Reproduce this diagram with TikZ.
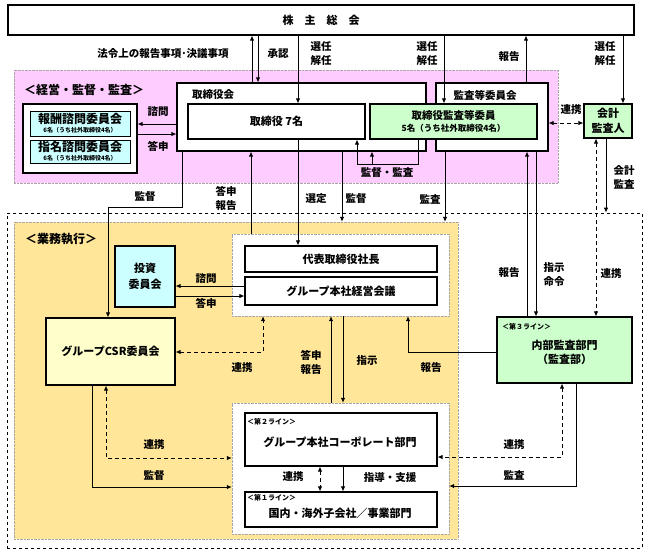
\documentclass[tikz,border=0pt]{standalone}
\usepackage{fontspec}
\setmainfont{Noto Sans CJK JP}
\usetikzlibrary{arrows.meta}

\definecolor{pinkbg}{HTML}{FFCCFF}
\definecolor{orangebg}{HTML}{FFE699}
\definecolor{greenbox}{HTML}{CCFFCC}
\definecolor{cyanbox}{HTML}{CCFFFF}
\definecolor{yellowbox}{HTML}{FFFFCC}

\begin{document}
\begin{tikzpicture}[x=1pt,y=-1pt,
    region/.style={draw=gray!70,densely dotted,inner sep=0pt},
    b/.style={draw,line width=1.1pt,fill=white,inner sep=0pt,align=center,font=\fontsize{11}{14}\selectfont\bfseries},
    lbl/.style={align=center,inner sep=0pt,font=\fontsize{10.5}{14}\selectfont\bfseries},
    tag/.style={anchor=west,inner sep=0pt,font=\fontsize{7}{8}\selectfont\bfseries},
    arr/.style={line width=0.9pt,-{Latex[length=5pt,width=4.5pt]}},
    darr/.style={line width=0.9pt,{Latex[length=5pt,width=4.5pt]}-{Latex[length=5pt,width=4.5pt]},dash pattern=on 4pt off 3pt}
]
\useasboundingbox (0,0) rectangle (647,555);

% regions
\node[draw,dashed,line width=0.8pt,inner sep=0pt,minimum width=635pt,minimum height=335pt] (ops) at (324.5,380.5) {};
\node[region,fill=orangebg,minimum width=444pt,minimum height=317pt] (biz) at (236,380.5) {};
\node[region,fill=pinkbg,minimum width=544pt,minimum height=113pt] (mgmt) at (286,126.5) {};
\node[region,fill=white,minimum width=217pt,minimum height=82pt] (topw) at (340.5,275) {};
\node[region,fill=white,minimum width=217pt,minimum height=131pt] (botw) at (340.5,468.5) {};

% shareholders
\node[b,minimum width=626pt,minimum height=30pt] (sh) at (321,20) {株　主　総　会};

% management / supervision
\node[lbl,font=\fontsize{12}{14}\selectfont\bfseries] (mgmtlbl) at (84,90) {＜経営・監督・監査＞};
\node[b,minimum width=114pt,minimum height=69pt] (advgrp) at (80,138.5) {};
\node[b,line width=0.8pt,fill=cyanbox,minimum width=100pt,minimum height=25pt,font=\fontsize{12}{9}\selectfont\bfseries] (rem) at (80,123.5) {報酬諮問委員会\\{\fontsize{6}{7}\selectfont 6名（うち社外取締役4名）}};
\node[b,line width=0.8pt,fill=cyanbox,minimum width=100pt,minimum height=23pt,font=\fontsize{12}{9}\selectfont\bfseries] (nom) at (80,151.5) {指名諮問委員会\\{\fontsize{6}{7}\selectfont 6名（うち社外取締役4名）}};
\node[b,minimum width=249pt,minimum height=68pt] (board) at (301.5,117) {};
\node[b,minimum width=112pt,minimum height=68pt] (acbd) at (492,117) {};
\node[lbl] (boardlbl) at (213,95) {取締役会};
\node[lbl] (acbdlbl) at (485,95) {監査等委員会};
\node[b,minimum width=177pt,minimum height=35pt] (dirs) at (276.5,121.5) {取締役 7名};
\node[b,fill=greenbox,minimum width=167pt,minimum height=35pt,font=\fontsize{10.5}{12}\selectfont\bfseries] (acm) at (453.5,121.5) {取締役監査等委員\\{\fontsize{8.5}{10}\selectfont 5名（うち社外取締役4名）}};
\node[b,fill=greenbox,minimum width=48pt,minimum height=34pt,font=\fontsize{11}{15}\selectfont\bfseries] (extaud) at (608,121) {会計\\監査人};

% execution
\node[lbl,font=\fontsize{12}{14}\selectfont\bfseries] (bizlbl) at (61,239) {＜業務執行＞};
\node[b,fill=cyanbox,minimum width=60pt,minimum height=61pt,font=\fontsize{11}{16}\selectfont\bfseries] (inv) at (145,276.5) {投資\\委員会};
\node[b,fill=yellowbox,minimum width=129pt,minimum height=67pt] (csr) at (110.5,351.5) {グループCSR委員会};
\node[b,minimum width=192pt,minimum height=26pt] (ceo) at (341,259) {代表取締役社長};
\node[b,minimum width=192pt,minimum height=28pt] (gmc) at (341,291) {グループ本社経営会議};
\node[b,fill=greenbox,minimum width=135pt,minimum height=66pt,font=\fontsize{11}{14}\selectfont\bfseries] (ia) at (564.5,350) {};
\node[lbl,font=\fontsize{11}{14}\selectfont\bfseries] (iatxt) at (564.5,352) {内部監査部門\\（監査部）};
\node[tag] (iatag) at (502,327) {＜第３ライン＞};
\node[b,minimum width=192pt,minimum height=53pt] (corp) at (341,439.5) {};
\node[tag] (corptag) at (247,422) {＜第２ライン＞};
\node[lbl,font=\fontsize{11}{14}\selectfont\bfseries] (corptxt) at (340,442) {グループ本社コーポレート部門};
\node[b,minimum width=192pt,minimum height=35pt] (sub) at (341,509.5) {};
\node[tag] (subtag) at (247,498) {＜第１ライン＞};
\node[lbl,font=\fontsize{11}{14}\selectfont\bfseries] (subtxt) at (340,513) {国内・海外子会社／事業部門};

% shareholders <-> board
\draw[arr] (board.north -| 252,0) -- (sh.south -| 252,0);
\draw[arr] (sh.south -| 258,0) -- (board.north -| 258,0);
\draw[arr] (sh.south -| 298,0) -- (dirs.north -| 298,0);
\draw[arr] (sh.south -| 444,0) -- (acm.north -| 444,0);
\draw[arr] (acbd.north -| 526,0) -- (sh.south -| 526,0);
\draw[arr] (sh.south -| 623,0) -- (extaud.north -| 623,0);
\node[lbl] (l1) at (163,54) {法令上の報告事項･決議事項};
\node[lbl] (l2) at (278,54) {承認};
\node[lbl] (l3) at (321,54) {選任\\解任};
\node[lbl] (l4) at (427,54) {選任\\解任};
\node[lbl] (l5) at (509,57) {報告};
\node[lbl] (l6) at (605,54) {選任\\解任};

% inside management
\draw[arr] (board.west |- 0,124) -- (advgrp.east |- 0,124);
\draw[arr] (advgrp.east |- 0,134) -- (board.west |- 0,134);
\node[lbl] (l7) at (158,112) {諮問};
\node[lbl] (l8) at (158,146) {答申};
\coordinate (auditsplit) at (372,164);
\draw[arr] (acm.south -| 418,0) -- (418,164) -| (dirs.south -| 357,0);
\draw[arr] (auditsplit) -- (board.south -| auditsplit);
\node[lbl] (l9) at (387,173) {監督・監査};
\draw[darr] (acbd.east |- 0,123) -- (extaud.west |- 0,123);
\node[lbl] (l10) at (571,110) {連携};

% management -> execution
\draw[arr] (board.south -| 182,0) -- (182,207) -| (csr.north -| 108,0);
\draw[arr] (topw.north -| 251,0) -- (board.south -| 251,0);
\draw[arr] (dirs.south -| 298,0) -- (ceo.north -| 298,0);
\draw[arr] (board.south -| 342,0) -- (biz.north -| 342,0);
\draw[arr] (acbd.south -| 445,0) -- (biz.north -| 445,0);
\draw[arr] (extaud.south -| 606,0) -- (ops.north -| 606,0);
\node[lbl] (l11) at (145,197) {監督};
\node[lbl] (l12) at (226,198) {答申\\報告};
\node[lbl] (l13) at (316,199) {選定};
\node[lbl] (l14) at (356,199) {監督};
\node[lbl] (l15) at (430,199) {監査};
\node[lbl] (l16) at (624,177) {会計\\監査};

% audit committee / external auditor <-> internal audit
\draw[arr] (ia.north -| 527,0) -- (acbd.south -| 527,0);
\draw[arr] (acbd.south -| 536,0) -- (ia.north -| 536,0);
\draw[darr] (extaud.south -| 596,0) -- (ia.north -| 596,0);
\node[lbl] (l17) at (509,273) {報告};
\node[lbl] (l18) at (554,275) {指示\\命令};
\node[lbl] (l19) at (611,274) {連携};

% execution area
\draw[arr] (gmc.west |- 0,286) -- (inv.east |- 0,286);
\draw[arr] (inv.east |- 0,296) -- (gmc.west |- 0,296);
\node[lbl] (l20) at (206,279) {諮問};
\node[lbl] (l21) at (206,303) {答申};
\draw[darr] (csr.east |- 0,352) -- (263,352) -- (topw.south -| 263,0);
\draw[arr] (ia.west |- 0,352) -- (408,352) -- (topw.south -| 408,0);
\draw[arr] (botw.north -| 331,0) -- (topw.south -| 331,0);
\draw[arr] (topw.south -| 343,0) -- (botw.north -| 343,0);
\node[lbl] (l22) at (242,368) {連携};
\node[lbl] (l23) at (311,362) {答申\\報告};
\node[lbl] (l24) at (367,361) {指示};
\node[lbl] (l25) at (431,368) {報告};
\draw[darr] (corp.south -| 320,0) -- (sub.north -| 320,0);
\draw[arr] (corp.south -| 343,0) -- (sub.north -| 343,0);
\node[lbl] (l26) at (293,477) {連携};
\node[lbl] (l27) at (390,477) {指導・支援};
\draw[darr] (csr.south -| 106,0) |- (botw.west |- 0,458);
\draw[arr] (csr.south -| 92,0) |- (botw.west |- 0,487);
\node[lbl] (l28) at (154,445) {連携};
\node[lbl] (l29) at (154,475) {監督};
\draw[darr] (ia.south -| 562,0) |- (corp.east |- 0,457);
\draw[arr] (ia.south -| 576,0) |- (botw.east |- 0,486);
\node[lbl] (l30) at (514,445) {連携};
\node[lbl] (l31) at (514,475) {監査};
\end{tikzpicture}
\end{document}
